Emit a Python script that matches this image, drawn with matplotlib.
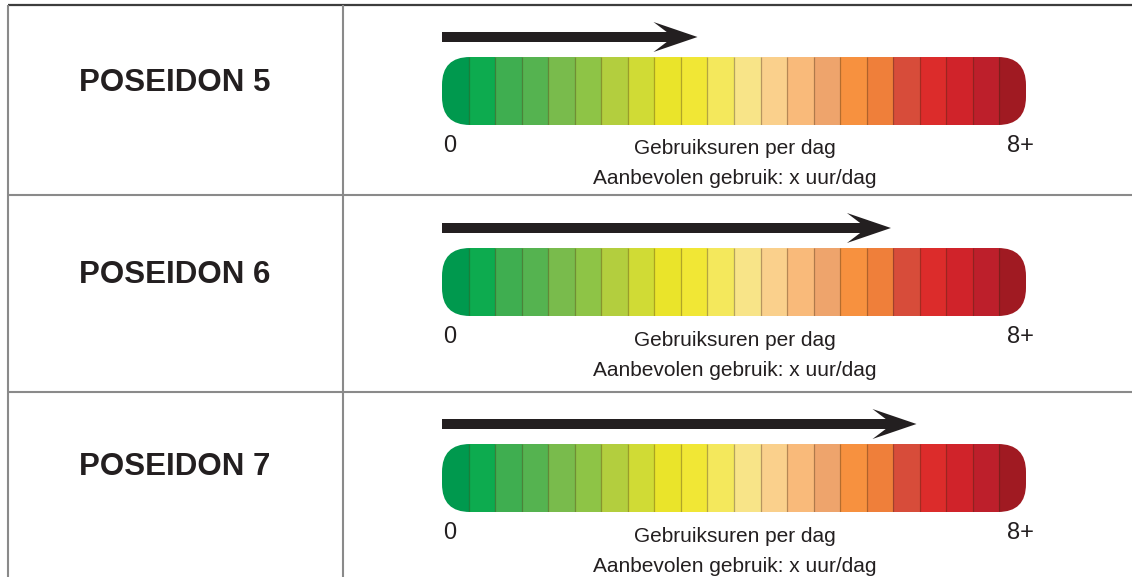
import numpy as np
import matplotlib
matplotlib.use("Agg")
import matplotlib.pyplot as plt
from matplotlib.patches import FancyBboxPatch

plt.rcParams['font.family'] = ['Liberation Sans', 'DejaVu Sans']

# data
products = ['POSEIDON 5', 'POSEIDON 6', 'POSEIDON 7']
usage_hours = [3.5, 6.15, 6.5]          # arrow length in hours per day
max_hours = 8
scale_min_label = '0'
scale_max_label = '8+'
axis_text = 'Gebruiksuren per dag'
advice_text = 'Aanbevolen gebruik: x uur/dag'
seg_colors = ['#00994e', '#0dab4f', '#3fae50', '#55b350', '#79bb4c', '#8ec446',
              '#b3ce3e', '#d0db35', '#eae42a', '#f1e735', '#f4e85c', '#f8e488',
              '#fad08c', '#f9ba7a', '#eea46c', '#f7913f', '#ef7f3a', '#d74c3a',
              '#dc2c2b', '#d0232a', '#bd1f2b', '#a01a22']

# layout (pixels)
W, H = 1132, 577
bar_x0, bar_x1 = 442, 1026
bar_tops = [57, 248, 444]
bar_h = 68
above = 40
row_lines = [195, 392]
label_y = [83, 275, 467]
txt = '#231f20'

fig = plt.figure(figsize=(W / 100, H / 100), dpi=100)
bg = fig.add_axes([0, 0, 1, 1])
bg.set_xlim(0, W)
bg.set_ylim(H, 0)
bg.axis('off')

# table grid
bg.plot([8, W], [5, 5], color='#3d3d3d', lw=1.6, solid_capstyle='butt')
for y in row_lines:
    bg.plot([8, W], [y, y], color='#8a8a8a', lw=1.5, solid_capstyle='butt')
for x in [8, 343]:
    bg.plot([x, x], [5, H], color='#8a8a8a', lw=1.5, solid_capstyle='butt')

px_per_hour = (bar_x1 - bar_x0) / max_hours
n = len(seg_colors)
seg_w = max_hours / n
x_left = np.arange(n) * seg_w

for i, name in enumerate(products):
    bg.text(175, label_y[i], name, ha='center', va='center', fontsize=22.5,
            fontweight='bold', color=txt)

    top = bar_tops[i]
    ax = fig.add_axes([bar_x0 / W, 1 - (top + bar_h) / H,
                       (bar_x1 - bar_x0) / W, (bar_h + above) / H])
    ax.set_xlim(0, max_hours)
    ax.set_ylim(0, (bar_h + above) / bar_h)
    ax.axis('off')

    # rounded ends: keep the corner circular in pixels
    asp = (1 / bar_h) / (1 / px_per_hour)
    clip = FancyBboxPatch((0, 0), max_hours, 1,
                          boxstyle=f"round,pad=0,rounding_size={28 / px_per_hour}",
                          mutation_aspect=asp, facecolor='none', edgecolor='none',
                          transform=ax.transData)
    ax.add_patch(clip)
    bars = ax.bar(x_left, 1, width=seg_w, align='edge', color=seg_colors, linewidth=0)
    for b in bars:
        b.set_clip_path(clip)
    vl = ax.vlines(x_left[1:], 0, 1, color='#3a2a10', alpha=0.35, lw=0.9)
    vl.set_clip_path(clip)

    ax.arrow(0, 1 + 20 / bar_h, usage_hours[i], 0, width=10 / bar_h,
             head_width=30 / bar_h, head_length=44 / px_per_hour, overhang=0.3,
             length_includes_head=True, color=txt, lw=0)

    bottom = top + bar_h
    bg.text(450, bottom + 21, scale_min_label, ha='center', va='center',
            fontsize=17, color=txt)
    bg.text(1020, bottom + 21, scale_max_label, ha='center', va='center',
            fontsize=17, color=txt)
    bg.text(735, bottom + 24, axis_text, ha='center', va='center',
            fontsize=15, color=txt)
    bg.text(735, bottom + 54, advice_text, ha='center', va='center',
            fontsize=15, color=txt)

fig.savefig('out.png', dpi=100)
